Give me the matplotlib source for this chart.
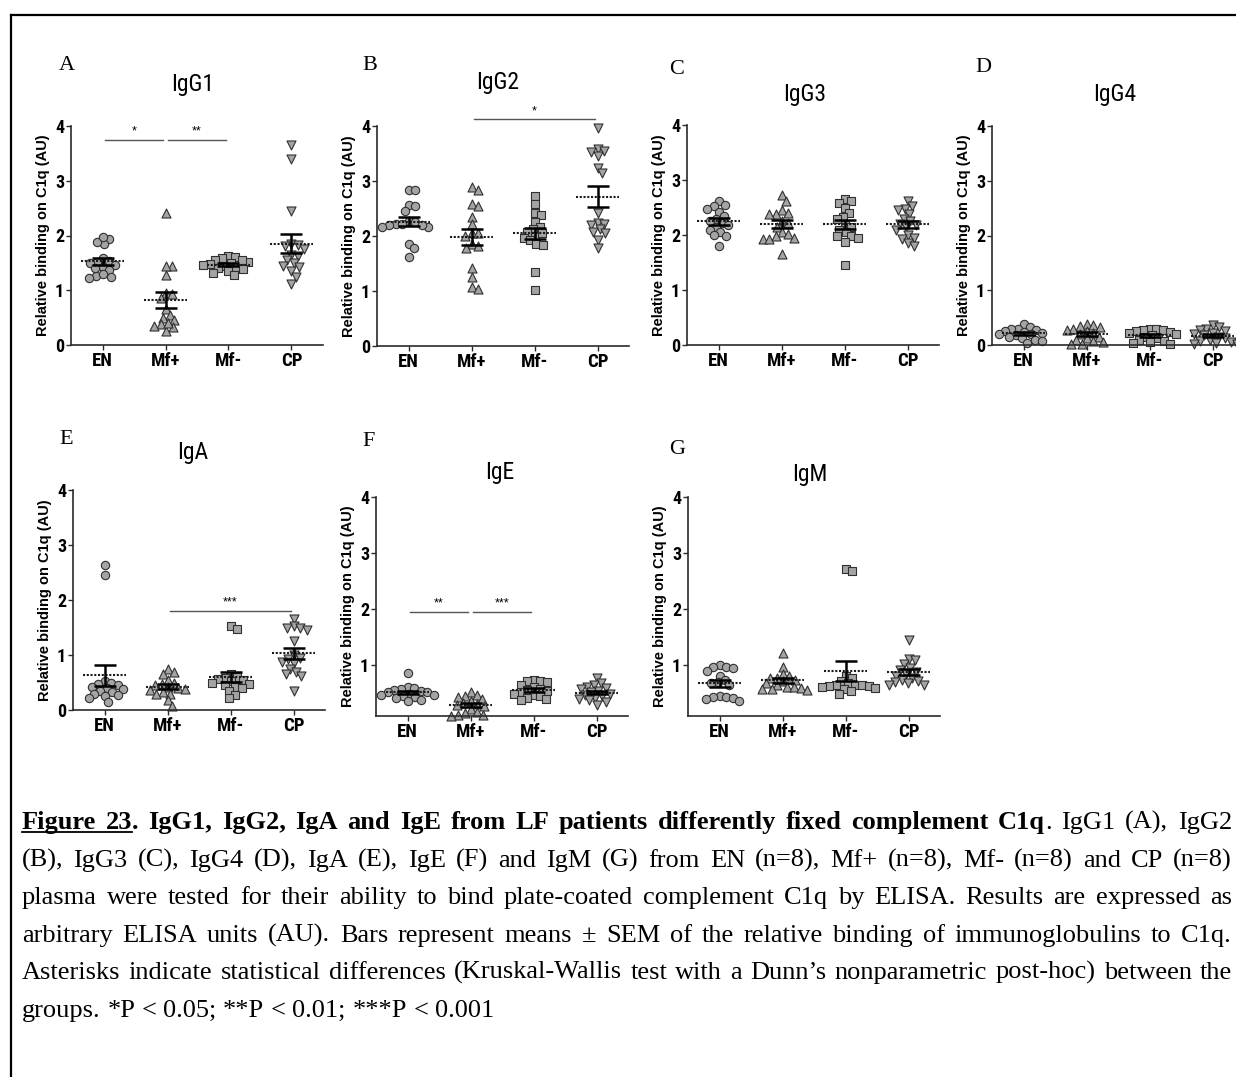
import matplotlib
matplotlib.use('Agg')
import matplotlib.pyplot as plt
import numpy as np
from matplotlib.lines import Line2D
from matplotlib import font_manager as fm

W, H = 1236, 1077
fig = plt.figure(figsize=(W / 100, H / 100), dpi=100)

SERIF = ['Liberation Serif', 'DejaVu Serif']


def _w(f):
    w = f.weight
    if isinstance(w, str):
        return {'bold': 700, 'normal': 400, 'regular': 400, 'book': 400, 'medium': 500}.get(w, 400)
    return int(w)


def _cond(f):
    st = f.stretch
    if isinstance(st, str):
        return 'condensed' in st
    return st < 500


def find_condensed(bold):
    prefs = ['Liberation Sans Narrow', 'Roboto Condensed', 'Open Sans Condensed', 'DejaVu Sans',
             'Noto Sans', 'Open Sans', 'Roboto']
    cands = []
    for f in fm.fontManager.ttflist:
        if 'Mono' in f.name or 'Serif' in f.name or f.style != 'normal':
            continue
        if not (_cond(f) or 'Narrow' in f.name or 'Condensed' in f.name):
            continue
        if (_w(f) >= 600) != bold:
            continue
        if bold and _w(f) > 800:
            continue
        if not bold and _w(f) < 350:
            continue
        rank = prefs.index(f.name) if f.name in prefs else len(prefs)
        cands.append((rank, f.fname))
    if cands:
        cands.sort()
        return cands[0][1]
    return None


_cr = find_condensed(False)
_cb = find_condensed(True)


def fp_narrow(size, bold=False):
    path = _cb if bold else _cr
    if path:
        return fm.FontProperties(fname=path, size=size)
    return fm.FontProperties(family=['Liberation Sans', 'DejaVu Sans'], size=size * 0.85,
                             weight='bold' if bold else 'normal')


groups = ['EN', 'Mf+', 'Mf-', 'CP']
markers = ['o', '^', 's', 'v']
msizes = [36, 42, 32, 42]

# ---------------- data ----------------
igg1_en = [1.93, 1.84, 1.89, 1.97, 1.59, 1.54, 1.52, 1.50, 1.47, 1.43, 1.37, 1.26, 1.22, 1.25, 1.30, 1.40]
igg1_mfp = [2.41, 1.45, 1.28, 1.45, 0.95, 0.93, 0.85, 0.65, 0.55, 0.50, 0.45, 0.38, 0.32, 0.35, 0.25, 0.40]
igg1_mfm = [1.62, 1.60, 1.58, 1.55, 1.52, 1.50, 1.48, 1.47, 1.45, 1.43, 1.40, 1.38, 1.35, 1.32, 1.28, 1.55]
igg1_cp = [3.65, 3.40, 2.45, 1.85, 1.82, 1.80, 1.75, 1.65, 1.62, 1.55, 1.50, 1.45, 1.42, 1.35, 1.25, 1.12]

igg2_en = [2.84, 2.83, 2.56, 2.55, 2.45, 2.28, 2.25, 2.22, 2.20, 2.17, 2.16, 2.22, 1.85, 1.78, 1.62, 2.20]
igg2_mfp = [2.90, 2.84, 2.58, 2.55, 2.35, 2.22, 2.06, 2.05, 2.00, 1.85, 1.81, 1.78, 1.41, 1.26, 1.07, 1.03]
igg2_mfm = [2.73, 2.58, 2.42, 2.38, 2.25, 2.17, 2.12, 2.08, 2.00, 1.97, 1.92, 1.86, 1.84, 1.35, 1.02, 2.05]
igg2_cp = [3.96, 3.58, 3.55, 3.52, 3.45, 3.23, 3.14, 2.42, 2.24, 2.22, 2.20, 2.12, 2.08, 2.05, 1.93, 1.78]

igg3_en = [2.61, 2.55, 2.52, 2.48, 2.42, 2.35, 2.30, 2.25, 2.22, 2.18, 2.15, 2.10, 2.05, 2.00, 1.98, 1.80]
igg3_mfp = [2.72, 2.62, 2.45, 2.40, 2.38, 2.38, 2.25, 2.22, 2.15, 2.05, 2.02, 1.98, 1.95, 1.93, 1.93, 1.65]
igg3_mfm = [2.65, 2.62, 2.58, 2.50, 2.40, 2.32, 2.30, 2.18, 2.15, 2.10, 2.05, 1.98, 1.98, 1.95, 1.88, 1.45]
igg3_cp = [2.62, 2.52, 2.48, 2.45, 2.38, 2.30, 2.25, 2.20, 2.18, 2.15, 2.10, 2.00, 1.95, 1.92, 1.85, 1.80]

igg4_en = [0.38, 0.33, 0.30, 0.30, 0.28, 0.26, 0.24, 0.22, 0.20, 0.20, 0.18, 0.15, 0.12, 0.10, 0.08, 0.03]
igg4_mfp = [0.38, 0.36, 0.34, 0.32, 0.30, 0.28, 0.25, 0.22, 0.20, 0.15, 0.12, 0.10, 0.08, 0.05, 0.02, 0.01]
igg4_mfm = [0.30, 0.30, 0.28, 0.27, 0.25, 0.24, 0.22, 0.20, 0.18, 0.15, 0.12, 0.10, 0.08, 0.05, 0.03, 0.02]
igg4_cp = [0.36, 0.33, 0.30, 0.28, 0.25, 0.22, 0.20, 0.18, 0.15, 0.12, 0.10, 0.08, 0.05, 0.03, 0.02, 0.01]

iga_en = [2.63, 2.46, 0.52, 0.50, 0.47, 0.45, 0.42, 0.40, 0.38, 0.35, 0.32, 0.30, 0.28, 0.25, 0.22, 0.14]
iga_mfp = [0.74, 0.70, 0.65, 0.55, 0.50, 0.48, 0.45, 0.42, 0.40, 0.38, 0.36, 0.33, 0.30, 0.30, 0.18, 0.08]
iga_mfm = [1.52, 1.47, 0.65, 0.60, 0.58, 0.56, 0.55, 0.52, 0.50, 0.48, 0.45, 0.42, 0.40, 0.35, 0.28, 0.22]
iga_cp = [1.65, 1.52, 1.50, 1.50, 1.45, 1.25, 0.92, 0.88, 1.00, 0.85, 0.95, 0.75, 0.70, 0.65, 0.62, 0.35]

ige_en = [0.87, 0.62, 0.60, 0.58, 0.57, 0.55, 0.53, 0.52, 0.50, 0.48, 0.47, 0.45, 0.43, 0.42, 0.38, 0.36]
ige_mfp = [0.52, 0.48, 0.45, 0.43, 0.40, 0.36, 0.33, 0.32, 0.30, 0.28, 0.22, 0.18, 0.15, 0.12, 0.12, 0.10]
ige_mfm = [0.75, 0.73, 0.72, 0.70, 0.65, 0.62, 0.58, 0.56, 0.55, 0.52, 0.50, 0.48, 0.45, 0.42, 0.40, 0.38]
ige_cp = [0.78, 0.68, 0.65, 0.62, 0.60, 0.58, 0.55, 0.52, 0.50, 0.48, 0.45, 0.42, 0.40, 0.38, 0.35, 0.30]

igm_en = [1.00, 0.98, 0.97, 0.95, 0.90, 0.82, 0.75, 0.70, 0.68, 0.65, 0.45, 0.44, 0.43, 0.42, 0.40, 0.37]
igm_mfp = [1.22, 0.98, 0.85, 0.78, 0.82, 0.78, 0.75, 0.72, 0.68, 0.65, 0.62, 0.62, 0.60, 0.58, 0.58, 0.56]
igm_mfm = [2.72, 2.68, 0.82, 0.78, 0.72, 0.68, 0.66, 0.65, 0.65, 0.64, 0.63, 0.62, 0.60, 0.58, 0.55, 0.50]
igm_cp = [1.45, 1.12, 1.10, 1.02, 0.95, 0.92, 0.88, 0.85, 0.82, 0.78, 0.75, 0.72, 0.70, 0.68, 0.65, 0.65]

titles = ['IgG1', 'IgG2', 'IgG3', 'IgG4', 'IgA', 'IgE', 'IgM']
letters = ['A', 'B', 'C', 'D', 'E', 'F', 'G']
panel_data = [
    [igg1_en, igg1_mfp, igg1_mfm, igg1_cp],
    [igg2_en, igg2_mfp, igg2_mfm, igg2_cp],
    [igg3_en, igg3_mfp, igg3_mfm, igg3_cp],
    [igg4_en, igg4_mfp, igg4_mfm, igg4_cp],
    [iga_en, iga_mfp, iga_mfm, iga_cp],
    [ige_en, ige_mfp, ige_mfm, ige_cp],
    [igm_en, igm_mfp, igm_mfm, igm_cp],
]
# significance bars: (group i, group j, height, label)
significance = [
    [(0, 1, 3.75, '*'), (1, 2, 3.75, '**')],
    [(1, 3, 4.12, '*')],
    [],
    [],
    [(1, 3, 1.80, '***')],
    [(0, 1, 1.96, '**'), (1, 2, 1.96, '***')],
    [],
]

# ---------------- layout (pixels) ----------------
layout = [
    (71, 126, 345, 0.0, 3.5),
    (377, 126, 346, 0.0, 3.5),
    (687, 125, 345, 0.0, 3.5),
    (992, 126, 345, 0.0, 3.37),
    (73, 490, 710, 0.0, 3.5),
    (376, 497, 716, 0.1, 3.5),
    (688, 497, 716, 0.1, 3.5),
]
title_pos = [(193, 85), (498, 82), (805, 95), (1115, 95), (193, 453), (500, 473), (810, 475)]
letter_pos = [(67, 65), (370, 66), (677, 69), (983, 67), (66, 439), (369, 442), (677, 450)]

UNIT = 63.0


def swarm(values, ax, xc, d):
    T = ax.transData
    x0 = T.transform((xc, 0))[0]
    ux = T.transform((xc + 1, 0))[0] - x0
    ys = [T.transform((xc, v))[1] for v in values]
    order = np.argsort(values)[::-1]
    placed = []
    offs = np.zeros(len(values))
    for i in order:
        y = ys[i]
        cands = [0.0]
        for (px, py) in placed:
            dy = y - py
            if abs(dy) < d:
                dx = np.sqrt(d * d - dy * dy)
                cands += [px + dx, px - dx]
        cands.sort(key=lambda c: (abs(c), -c))
        chosen = cands[-1]
        for c in cands:
            if all((c - px) ** 2 + (y - py) ** 2 >= d * d - 1e-6 for px, py in placed):
                chosen = c
                break
        placed.append((chosen, y))
        offs[i] = chosen / ux
    return xc + offs


for k in range(7):
    left, top, bottom, ymin, xmax = layout[k]
    width = (xmax + 0.5) * UNIT
    ax = fig.add_axes([left / W, 1 - bottom / H, width / W, (bottom - top) / H])
    ax.set_xlim(-0.5, xmax)
    ax.set_ylim(ymin, 4)
    ax.patch.set_alpha(0)
    for s in ['top', 'right']:
        ax.spines[s].set_visible(False)
    for s in ['left', 'bottom']:
        ax.spines[s].set_linewidth(1.2)
        ax.spines[s].set_color('#2a2a2a')
    ax.set_xticks(range(4))
    ax.set_xticklabels(groups, fontproperties=fp_narrow(13.5, True))
    yt = [0, 1, 2, 3, 4] if ymin == 0 else [1, 2, 3, 4]
    ax.set_yticks(yt)
    ax.set_yticklabels([str(v) for v in yt], fontproperties=fp_narrow(13, True))
    ax.tick_params(axis='both', direction='out', length=3.5, width=1.0, color='#2a2a2a', pad=1.5)
    ax.set_ylabel('Relative binding on C1q (AU)', fontfamily=['Liberation Sans', 'DejaVu Sans'],
                  fontweight='bold', fontsize=10.5)
    ax.yaxis.set_label_coords(-21 / width, 0.5)

    for g in range(4):
        vals = np.array(panel_data[k][g])
        xs = swarm(vals, ax, g, 6.9)
        ax.scatter(xs, vals, s=msizes[g], marker=markers[g], facecolor='#a4a4a4',
                   edgecolor='#303030', linewidth=0.8, zorder=2, clip_on=False)
        m = vals.mean()
        sem = vals.std(ddof=1) / np.sqrt(len(vals))
        ax.hlines(m, g - 0.34, g + 0.34, colors='#1a1a1a', linestyles=(0, (1.0, 0.8)),
                  linewidth=1.5, zorder=4)
        ax.errorbar(g, m, yerr=sem, fmt='none', ecolor='black', elinewidth=1.8,
                    capsize=7.7, capthick=1.8, zorder=5)

    for (i, j, yv, lab) in significance[k]:
        ax.plot([i + 0.04, j - 0.04], [yv, yv], color='#555555', lw=1.0, clip_on=False, zorder=3)
        ax.text((i + j) / 2, yv + 0.04, lab, ha='center', va='bottom', fontsize=9,
                fontfamily=['Liberation Sans', 'DejaVu Sans'], clip_on=False)

    tx, ty = title_pos[k]
    fig.text(tx / W, 1 - ty / H, titles[k], ha='center', va='center', fontproperties=fp_narrow(17))
    lx, ly = letter_pos[k]
    fig.text(lx / W, 1 - ly / H, letters[k], ha='center', va='center', fontsize=16, fontfamily=SERIF)

# border
fig.add_artist(Line2D([11 / W, 1.0], [1 - 15 / H, 1 - 15 / H], color='black', lw=1.6))
fig.add_artist(Line2D([11 / W, 11 / W], [1 - 15 / H, 0.0], color='black', lw=1.6))

# ---------------- caption ----------------
CAP_SIZE = 19
cap_lines = [
    [[('Figure', 'bu')], [('23', 'bu'), ('.', 'b')], [('IgG1,', 'b')], [('IgG2,', 'b')], [('IgA', 'b')],
     [('and', 'b')], [('IgE', 'b')], [('from', 'b')], [('LF', 'b')], [('patients', 'b')],
     [('differently', 'b')], [('fixed', 'b')], [('complement', 'b')], [('C1q', 'b'), ('.', 'n')],
     [('IgG1', 'n')], [('(A),', 'n')], [('IgG2', 'n')]],
    '(B), IgG3 (C), IgG4 (D), IgA (E), IgE (F) and IgM (G) from EN (n=8), Mf+ (n=8), Mf- (n=8) and CP (n=8)',
    'plasma were tested for their ability to bind plate-coated complement C1q by ELISA. Results are expressed as',
    'arbitrary ELISA units (AU). Bars represent means \u00b1 SEM of the relative binding of immunoglobulins to C1q.',
    'Asterisks indicate statistical differences (Kruskal-Wallis test with a Dunn\u2019s nonparametric post-hoc) between the',
    'groups. *P < 0.05; **P < 0.01; ***P < 0.001',
]
baselines = [829, 867, 904, 942, 979, 1017]
X0, X1 = 22, 1232

renderer = fig.canvas.get_renderer()
space_t = fig.text(0, 0, 'a a', fontsize=CAP_SIZE, fontfamily=SERIF)
aa_t = fig.text(0, 0, 'aa', fontsize=CAP_SIZE, fontfamily=SERIF)
space_w = space_t.get_window_extent(renderer).width - aa_t.get_window_extent(renderer).width
space_t.remove()
aa_t.remove()

for li, line in enumerate(cap_lines):
    if isinstance(line, str):
        words = [[(w, 'n')] for w in line.split(' ')]
    else:
        words = line
    justify = li < len(cap_lines) - 1
    items = []
    for word in words:
        runs = []
        for (t, st) in word:
            txt = fig.text(0, 0, t, fontsize=CAP_SIZE, fontfamily=SERIF,
                           fontweight='bold' if 'b' in st else 'normal', ha='left', va='baseline')
            w = txt.get_window_extent(renderer).width
            runs.append((txt, w, 'u' in st))
        items.append(runs)
    widths = [sum(r[1] for r in runs) for runs in items]
    total = sum(widths)
    gap = (X1 - X0 - total) / (len(items) - 1) if justify else space_w
    x = X0
    y = baselines[li]
    ux0 = ux1 = None
    for runs in items:
        for (txt, w, und) in runs:
            txt.set_position((x / W, 1 - y / H))
            if und:
                if ux0 is None:
                    ux0 = x
                ux1 = x + w
            x += w
        x += gap
    if ux0 is not None:
        fig.add_artist(Line2D([ux0 / W, ux1 / W], [1 - (y + 3) / H, 1 - (y + 3) / H],
                              color='black', lw=1.3))

fig.savefig('out.png', dpi=100)
